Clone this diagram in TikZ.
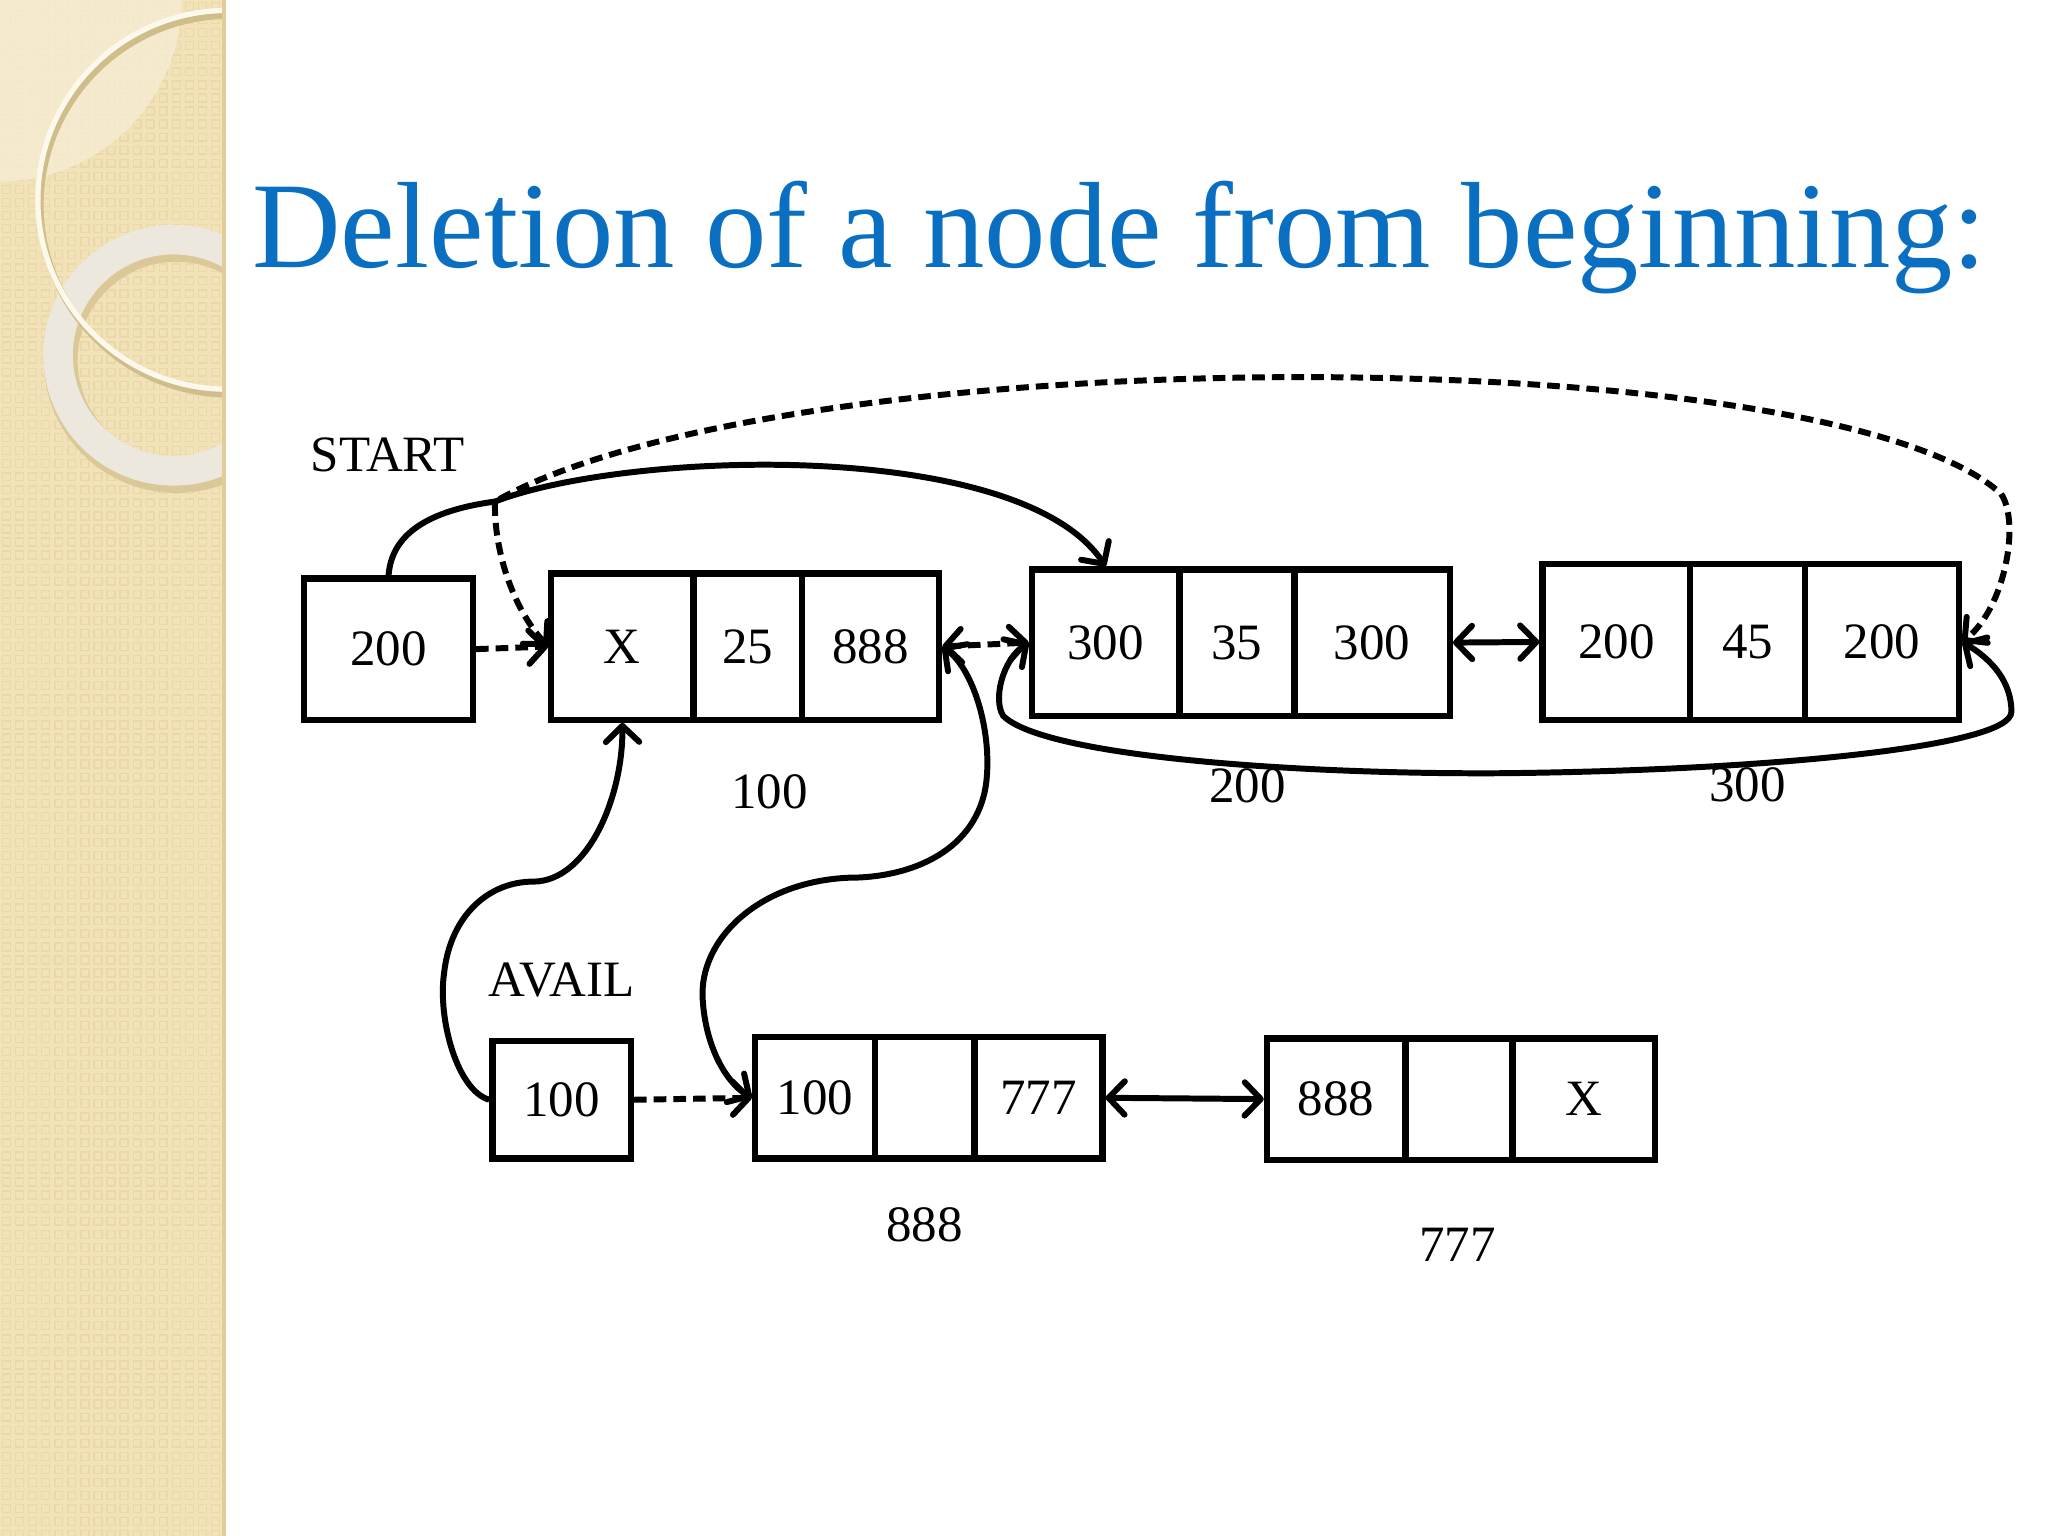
\documentclass[tikz,border=0pt]{standalone}
\usepackage{fontspec}
\setmainfont{Liberation Serif}
\usetikzlibrary{arrows.meta}
\definecolor{titleblue}{HTML}{0B6FC1}
\definecolor{stripbase}{HTML}{F2E2B8}
\definecolor{stripsq}{HTML}{EBD8AA}
\definecolor{stripedge}{HTML}{E2CD99}
\definecolor{lenscol}{HTML}{F6EDD3}
\definecolor{thinring}{HTML}{FCF8EC}
\definecolor{ringshadow}{HTML}{CFBD8C}
\definecolor{thickring}{HTML}{ECE8DE}
\begin{document}
\begin{tikzpicture}[x=0.01306cm,y=-0.01306cm,
  cell/.style n args={2}{draw, line width=1.8pt, inner sep=0pt,
    minimum width=#1*0.01306cm, minimum height=#2*0.01306cm,
    font=\fontsize{14.5}{16}\selectfont},
  lbl/.style={inner sep=0pt, font=\fontsize{14.5}{16}\selectfont},
  tip/.tip={Straight Barb[length=4.6pt,width=9.5pt,round]},
  conn/.style={line width=1.7pt},
  dconn/.style={line width=1.7pt, dash pattern=on 3.6pt off 2pt}]
% canvas
\useasboundingbox (0,0) rectangle (1568,1176);
\fill[white] (0,0) rectangle (1568,1176);
% left decorative strip
\begin{scope}
  \clip (0,0) rectangle (173,1176);
  \fill[stripbase] (0,0) rectangle (173,1176);
  \foreach \i in {0,...,17}{
    \foreach \j in {0,...,117}{
      \draw[stripsq, line width=0.4pt] (\i*10+2,\j*10+2) rectangle +(6,6);
    }
  }
  \fill[lenscol, opacity=0.8] (0,0) circle[radius=1.815cm];
  \draw[ringshadow!70!stripbase, line width=9.6pt] (135,276) circle[radius=1.156cm];
  \draw[thickring, line width=8.4pt] (133,272) circle[radius=1.156cm];
  \draw[ringshadow, line width=1.8pt] (176,157) circle[radius=1.894cm];
  \draw[thinring, line width=1.5pt] (174,153) circle[radius=1.894cm];
  \fill[stripedge] (170,0) rectangle (173,1176);
\end{scope}
% title
\node[anchor=base, inner sep=0pt, text=titleblue, font=\fontsize{34.9}{40}\selectfont]
  (title) at (857,205) {Deletion of a node from beginning:};
% labels
\node[lbl] (start) at (297,348) {START};
\node[lbl] (avail) at (430,750) {AVAIL};
\node[lbl] (l100) at (589,606) {100};
\node[lbl] (l200) at (955,602) {200};
\node[lbl] (l300) at (1338,601) {300};
\node[lbl] (l888) at (708,938) {888};
\node[lbl] (l777) at (1116,953) {777};
% pointer boxes
\node[cell={129}{108}] (s200) at (297.5,497) {200};
\node[cell={106}{90}] (av) at (430,842) {100};
% node at 100
\node[cell={109}{112}] (n1a) at (476.5,495) {X};
\node[cell={83}{112}] (n1b) at (572.5,495) {25};
\node[cell={105}{112}] (n1c) at (666.5,495) {888};
% node at 200
\node[cell={113}{112}] (n2a) at (846.5,492) {300};
\node[cell={88}{112}] (n2b) at (947,492) {35};
\node[cell={119}{112}] (n2c) at (1050.5,492) {300};
% node at 300
\node[cell={113}{119}] (n3a) at (1237.5,491.5) {200};
\node[cell={88}{119}] (n3b) at (1338,491.5) {45};
\node[cell={118}{119}] (n3c) at (1441,491.5) {200};
% node at 888
\node[cell={92}{93}] (n4a) at (624,840.5) {100};
\node[cell={76}{93}] (n4b) at (708,840.5) {};
\node[cell={98}{93}] (n4c) at (795,840.5) {777};
% node at 777
\node[cell={106}{93}] (n5a) at (1023,841.5) {888};
\node[cell={82}{93}] (n5b) at (1117,841.5) {};
\node[cell={109}{93}] (n5c) at (1212.5,841.5) {X};
% junction points
\coordinate (j1) at (379,384);
\coordinate (j2) at (1532,378);
% connectors
\draw[dconn, -tip] (s200.east) -- (n1a.west);
\draw[conn, -tip] (s200.north) .. controls (300,405) and (335,390) .. (j1)
   .. controls (480,345) and (780,335) .. (n2a.north);
\draw[dconn, tip-tip] (n1a.west) .. controls (392,465) and (378,420) .. (j1)
   .. controls (600,258) and (1400,258) .. (j2)
   .. controls (1547,400) and (1535,465) .. (n3c.east);
\draw[dconn, tip-tip] (n1c.east) -- (n2a.west);
\draw[conn, tip-tip] (n2c.east) -- (n3a.west);
\draw[conn, tip-tip] (n2a.west) .. controls (768,505) and (760,535) .. (768,548)
   .. controls (800,580) and (1000,593) .. (1150,592)
   .. controls (1350,590) and (1540,572) .. (1540,545)
   .. controls (1540,522) and (1525,505) .. (n3c.east);
\draw[conn, -tip] (av.west) .. controls (350,835) and (335,780) .. (340,745)
   .. controls (345,700) and (375,675) .. (408,675)
   .. controls (450,675) and (477,610) .. (n1a.south);
\draw[conn, tip-tip] (n1c.east) .. controls (745,512) and (760,560) .. (755,600)
   .. controls (748,650) and (700,672) .. (650,672)
   .. controls (580,675) and (535,720) .. (538,765)
   .. controls (540,800) and (555,828) .. (n4a.west);
\draw[dconn, -tip] (av.east) -- (n4a.west);
\draw[conn, tip-tip] (n4c.east) -- (n5a.west);
\end{tikzpicture}
\end{document}
